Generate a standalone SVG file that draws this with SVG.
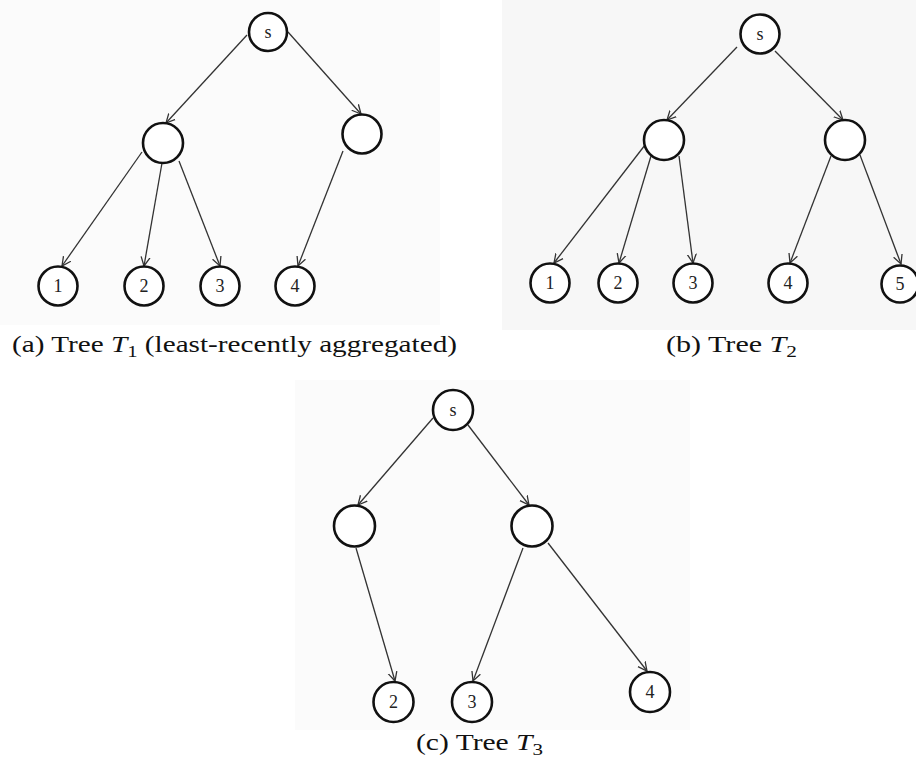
<svg xmlns="http://www.w3.org/2000/svg" width="916" height="761" viewBox="0 0 916 761">
<style>
.node circle{fill:#fff;stroke:#111;stroke-width:2.6}
.node text{font-family:"Liberation Serif","Times New Roman","DejaVu Serif",serif;font-size:18px;fill:#222;text-anchor:middle}
.edges line{stroke:#333;stroke-width:1.3;marker-end:url(#arr)}
.cap{font-family:"Liberation Serif","Times New Roman","DejaVu Serif",serif;font-size:24px;fill:#111}
.it{font-style:italic}
</style>
<defs>
<marker id="arr" markerUnits="userSpaceOnUse" markerWidth="12" markerHeight="12" refX="9" refY="5" orient="auto" viewBox="0 0 12 10">
<path d="M0,0.5 L9,5 L0,9.5" fill="none" stroke="#333" stroke-width="1.3"/>
</marker>
</defs>
<rect x="0" y="0" width="916" height="761" fill="#fff"/>
<rect x="0" y="0" width="440" height="325" fill="#fbfbfb"/>
<rect x="502" y="0" width="414" height="330" fill="#f7f7f7"/>
<rect x="295" y="380" width="395" height="350" fill="#fbfbfb"/>

<g class="edges" id="connectors">
<line x1="247" y1="35" x2="166" y2="123"/>
<line x1="288" y1="32" x2="361" y2="114"/>
<line x1="142" y1="152" x2="62" y2="266"/>
<line x1="162" y1="163" x2="144" y2="266"/>
<line x1="179" y1="161" x2="220" y2="266"/>
<line x1="343" y1="151" x2="298" y2="266"/>

<line x1="737" y1="47" x2="667" y2="120"/>
<line x1="775" y1="51" x2="843" y2="120"/>
<line x1="645" y1="145" x2="554" y2="263"/>
<line x1="651" y1="156" x2="619" y2="263"/>
<line x1="679" y1="156" x2="693" y2="263"/>
<line x1="831" y1="156" x2="790" y2="263"/>
<line x1="860" y1="155" x2="901" y2="264"/>

<line x1="433" y1="418" x2="358" y2="505"/>
<line x1="468" y1="425" x2="529" y2="505"/>
<line x1="356" y1="548" x2="395" y2="681"/>
<line x1="523" y1="548" x2="473" y2="681"/>
<line x1="548" y1="543" x2="647" y2="671"/>
</g>

<g id="a-s" class="node"><circle cx="268" cy="32" r="19"/><text x="268" y="38">s</text></g>
<g id="a-m1" class="node"><circle cx="163" cy="143" r="20"/></g>
<g id="a-m2" class="node"><circle cx="362" cy="134" r="19.5"/></g>
<g id="a-1" class="node"><circle cx="58" cy="286" r="19.5"/><text x="58" y="292">1</text></g>
<g id="a-2" class="node"><circle cx="144" cy="286" r="19.5"/><text x="144" y="292">2</text></g>
<g id="a-3" class="node"><circle cx="220" cy="286" r="19.5"/><text x="220" y="292">3</text></g>
<g id="a-4" class="node"><circle cx="295" cy="286" r="19.5"/><text x="295" y="292">4</text></g>

<g id="b-s" class="node"><circle cx="760" cy="34" r="19.5"/><text x="760" y="40">s</text></g>
<g id="b-m1" class="node"><circle cx="664" cy="140" r="20"/></g>
<g id="b-m2" class="node"><circle cx="845" cy="140" r="20"/></g>
<g id="b-1" class="node"><circle cx="550" cy="283" r="19.5"/><text x="550" y="289">1</text></g>
<g id="b-2" class="node"><circle cx="618" cy="283" r="19.5"/><text x="618" y="289">2</text></g>
<g id="b-3" class="node"><circle cx="693" cy="283" r="19.5"/><text x="693" y="289">3</text></g>
<g id="b-4" class="node"><circle cx="788" cy="283" r="19.5"/><text x="788" y="289">4</text></g>
<g id="b-5" class="node"><circle cx="900" cy="284" r="18.5"/><text x="900" y="290">5</text></g>

<g id="c-s" class="node"><circle cx="453" cy="410" r="20"/><text x="453" y="416">s</text></g>
<g id="c-m1" class="node"><circle cx="354.5" cy="526" r="20.5"/></g>
<g id="c-m2" class="node"><circle cx="532" cy="526" r="20.5"/></g>
<g id="c-2" class="node"><circle cx="393.5" cy="702" r="20"/><text x="393.5" y="708">2</text></g>
<g id="c-3" class="node"><circle cx="472" cy="702" r="20"/><text x="472" y="708">3</text></g>
<g id="c-4" class="node"><circle cx="650" cy="692" r="20"/><text x="650" y="698">4</text></g>

<g id="captions">
<text class="cap" x="12" y="352" textLength="445" lengthAdjust="spacingAndGlyphs">(a) Tree <tspan class="it">T</tspan><tspan font-size="17" dy="5">1</tspan><tspan dy="-5"> (least-recently aggregated)</tspan></text>
<text class="cap" x="666" y="352" textLength="131" lengthAdjust="spacingAndGlyphs">(b) Tree <tspan class="it">T</tspan><tspan font-size="17" dy="5">2</tspan></text>
<text class="cap" x="416" y="750" textLength="127" lengthAdjust="spacingAndGlyphs">(c) Tree <tspan class="it">T</tspan><tspan font-size="17" dy="5">3</tspan></text>
</g>
</svg>
